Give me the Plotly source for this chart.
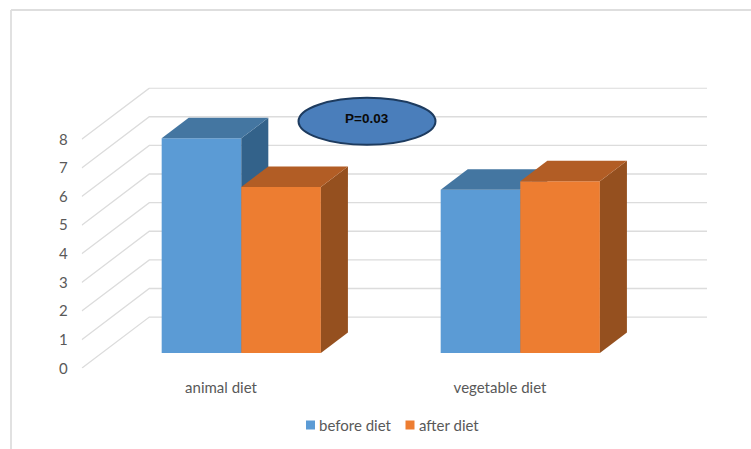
import plotly.graph_objects as go

# Chart data
categories = ["animal diet", "vegetable diet"]
series_names = ["before diet", "after diet"]
before_diet = [7.5, 5.7]
after_diet = [5.8, 6.0]
y_ticks = [0, 1, 2, 3, 4, 5, 6, 7, 8]
p_label = "P=0.03"

# Page and plot-box geometry, in pixels
W, H = 751, 449
LEFT, RIGHT, TOP, BOTTOM = 81.7, 707.0, 87.4, 368.3
PX_PER_CAT = 279.0
PX_PER_UNIT = 28.62
CAT0_PX = 221.0

# Oblique projection: depth 0 is the front of the floor, depth 1 the back wall
DEPTH_DX = 67.6 / PX_PER_CAT
DEPTH_DY = 51.2 / PX_PER_UNIT
BAR_NEAR, BAR_FAR = 0.30, 0.70
BAR_W = 79.6 / PX_PER_CAT

x_range = [(LEFT - CAT0_PX) / PX_PER_CAT, (RIGHT - CAT0_PX) / PX_PER_CAT]
y_range = [0, (BOTTOM - TOP) / PX_PER_UNIT]
x_domain = [LEFT / W, RIGHT / W]
y_domain = [1 - BOTTOM / H, 1 - TOP / H]


def px_x(p):
    return p / W


def px_y(p):
    return 1 - p / H


def project(x, v, d):
    """Map category position, value and depth onto the flat axes."""
    return x + d * DEPTH_DX, v + d * DEPTH_DY


def polygon(points):
    xs, ys = zip(*[project(*p) for p in points])
    return list(xs) + [xs[0]], list(ys) + [ys[0]]


fig = go.Figure()


def add_series(name, values, color, top_color, side_color, left_edge, axis_suffix):
    x_offset = left_edge + BAR_NEAR * DEPTH_DX
    base = BAR_NEAR * DEPTH_DY
    xa, ya = "x" + axis_suffix, "y" + axis_suffix
    fig.add_trace(go.Bar(
        x=list(range(len(values))), y=values, base=base, offset=x_offset, width=BAR_W,
        name=name, marker=dict(color=color, line=dict(width=0)),
        xaxis=xa, yaxis=ya, hoverinfo="skip", showlegend=False,
    ))
    for i, v in enumerate(values):
        x0 = i + left_edge
        x1 = x0 + BAR_W
        faces = [
            ([(x1, 0, BAR_NEAR), (x1, 0, BAR_FAR), (x1, v, BAR_FAR), (x1, v, BAR_NEAR)], side_color),
            ([(x0, v, BAR_NEAR), (x0, v, BAR_FAR), (x1, v, BAR_FAR), (x1, v, BAR_NEAR)], top_color),
        ]
        for pts, col in faces:
            xs, ys = polygon(pts)
            fig.add_trace(go.Scatter(
                x=xs, y=ys, mode="lines", fill="toself", fillcolor=col,
                line=dict(width=0, color=col), showlegend=False,
                xaxis=xa, yaxis=ya, hoverinfo="skip",
            ))


# Each series sits on its own overlaid axes so the nearer one paints on top
add_series(series_names[0], before_diet, "#5b9bd5", "#4476a1", "#33628a", -BAR_W, "2")
add_series(series_names[1], after_diet, "#ed7d31", "#b25d25", "#95501f", 0, "3")

# Floor-to-wall grid lines, painted under every series
shapes = []
for v in y_ticks:
    bx, by = project(x_range[0], v, 1)
    shapes.append(dict(
        type="path", xref="x", yref="y", layer="below",
        path=f"M{x_range[0]},{v} L{bx},{by} L{x_range[1]},{by}",
        line=dict(color="#dcdcdc", width=1.3),
    ))

# Outer chart frame: top and left edges only
frame = dict(color="#dedede", width=1.8)
shapes.append(dict(type="line", xref="paper", yref="paper",
                   x0=px_x(11), x1=1, y0=px_y(10), y1=px_y(10), line=frame))
shapes.append(dict(type="line", xref="paper", yref="paper",
                   x0=px_x(11), x1=px_x(11), y0=px_y(10), y1=0, line=frame))

# Significance callout
shapes.append(dict(type="circle", xref="paper", yref="paper", layer="above",
                   x0=px_x(298.5), x1=px_x(435.5), y0=px_y(144.8), y1=px_y(97.8),
                   fillcolor="#4a7ebb", line=dict(color="#1d3b5f", width=2)))
fig.add_annotation(xref="paper", yref="paper", x=px_x(367), y=px_y(119),
                   xanchor="center", yanchor="middle",
                   text=f"<b>{p_label}</b>", showarrow=False,
                   font=dict(family="Liberation Sans", size=13.5, color="#0a0a0a"))

# Compact key under the chart
key_swatches = [(306, "#5b9bd5"), (405.5, "#ed7d31")]
key_text_x = [317, 416.5]
for (sx, col), tx, label in zip(key_swatches, key_text_x, series_names):
    shapes.append(dict(type="rect", xref="paper", yref="paper", layer="above",
                       x0=px_x(sx), x1=px_x(sx + 9), y0=px_y(429.5), y1=px_y(420.5),
                       fillcolor=col, line=dict(width=0)))
    fig.add_annotation(xref="paper", yref="paper", x=px_x(tx), y=px_y(424.5),
                       xanchor="left", yanchor="middle", text=label, showarrow=False,
                       font=dict(size=15, color="#595959"))

axis_hidden = dict(range=x_range, domain=x_domain, visible=False, fixedrange=True)
y_hidden = dict(range=y_range, domain=y_domain, visible=False, overlaying="y", fixedrange=True)
fig.update_layout(
    width=W, height=H,
    margin=dict(l=0, r=0, t=0, b=0, pad=0, autoexpand=False),
    paper_bgcolor="#ffffff", plot_bgcolor="rgba(0,0,0,0)",
    barmode="overlay",
    shapes=shapes,
    font=dict(family="Lato", color="#595959"),
    xaxis=dict(range=x_range, domain=x_domain, tickvals=[0, 1], ticktext=categories,
               showgrid=False, zeroline=False, showline=False, ticks="",
               tickfont=dict(size=15), ticklabelstandoff=9, fixedrange=True,
               automargin=False),
    yaxis=dict(range=y_range, domain=y_domain, tickvals=y_ticks, showgrid=False,
               zeroline=False, showline=False, ticks="", tickfont=dict(size=15),
               ticklabelstandoff=13, fixedrange=True, automargin=False),
    xaxis2=dict(axis_hidden, overlaying="x"),
    yaxis2=y_hidden,
    xaxis3=dict(axis_hidden, overlaying="x"),
    yaxis3=y_hidden,
    showlegend=False,
)

fig.write_html("out.html", config=dict(displayModeBar=False))
